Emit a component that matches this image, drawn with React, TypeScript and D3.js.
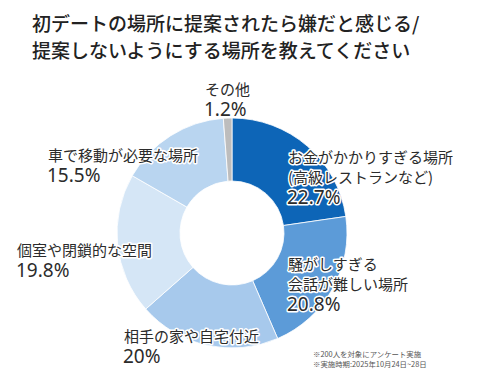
import React from "react";
import * as d3 from "d3";

const categories = [
  "お金がかかりすぎる場所(高級レストランなど)",
  "騒がしすぎる会話が難しい場所",
  "相手の家や自宅付近",
  "個室や閉鎖的な空間",
  "車で移動が必要な場所",
  "その他",
];
const values = [22.7, 20.8, 20, 19.8, 15.5, 1.2];
const percentLabels = ["22.7%", "20.8%", "20%", "19.8%", "15.5%", "1.2%"];
const labelLines = [
  ["お金がかかりすぎる場所", "(高級レストランなど)"],
  ["騒がしすぎる", "会話が難しい場所"],
  ["相手の家や自宅付近"],
  ["個室や閉鎖的な空間"],
  ["車で移動が必要な場所"],
  ["その他"],
];
const colors = ["#0d65b7", "#5c9bd8", "#a7c9ec", "#d5e6f6", "#b9d5f0", "#bdbdbd"];
const titleLines = [
  "初デートの場所に提案されたら嫌だと感じる/",
  "提案しないようにする場所を教えてください",
];
const notes = ["※200人を対象にアンケート実施", "※実施時期:2025年10月24日~28日"];

// label anchor (x, baseline of first line)
const labelPos: [number, number][] = [
  [288, 163],
  [288, 270],
  [124, 342],
  [17, 256],
  [48, 161],
  [205, 95],
];

const W = 491;
const H = 383;
const cx = 232;
const cy = 233;
const outerR = 115;
const innerR = 52;
const font = "'Noto Sans CJK JP', 'Noto Sans', sans-serif";

export default function App() {
  const pie = d3.pie<number>().sort(null).value((d) => d);
  const arcs = pie(values);
  const arc = d3.arc<d3.PieArcDatum<number>>().innerRadius(innerR).outerRadius(outerR);

  const haloStyle: React.CSSProperties = {
    paintOrder: "stroke",
    stroke: "#ffffff",
    strokeWidth: 3,
    strokeLinejoin: "round",
  };

  return (
    <svg
      width={W}
      height={H}
      style={{ position: "absolute", left: 0, top: 0, background: "#fff" }}
      fontFamily={font}
    >
      <rect width={W} height={H} fill="#ffffff" />
      {titleLines.map((t, i) => (
        <text key={i} x={32} y={31 + i * 27} fontSize={19} fontWeight={500} fill="#222">
          {t}
        </text>
      ))}
      <g transform={`translate(${cx},${cy})`}>
        {arcs.map((a, i) => (
          <path key={categories[i]} d={arc(a) || ""} fill={colors[i]} stroke="#fff" strokeWidth={0.8} />
        ))}
      </g>
      {labelPos.map(([x, y], i) => {
        const lines = labelLines[i];
        return (
          <g key={i} fill="#2b2b2b" style={haloStyle}>
            {lines.map((l, j) => (
              <text key={j} x={x} y={y + j * 20} fontSize={15}>
                {l}
              </text>
            ))}
            <text
              x={x - 1}
              y={y + lines.length * 20 + 1}
              fontSize={19}
              fontFamily="'Noto Sans', sans-serif"
            >
              {percentLabels[i]}
            </text>
          </g>
        );
      })}
      {notes.map((n, i) => (
        <text key={i} x={313} y={357 + i * 9.5} fontSize={7.4} fill="#555">
          {n}
        </text>
      ))}
    </svg>
  );
}
